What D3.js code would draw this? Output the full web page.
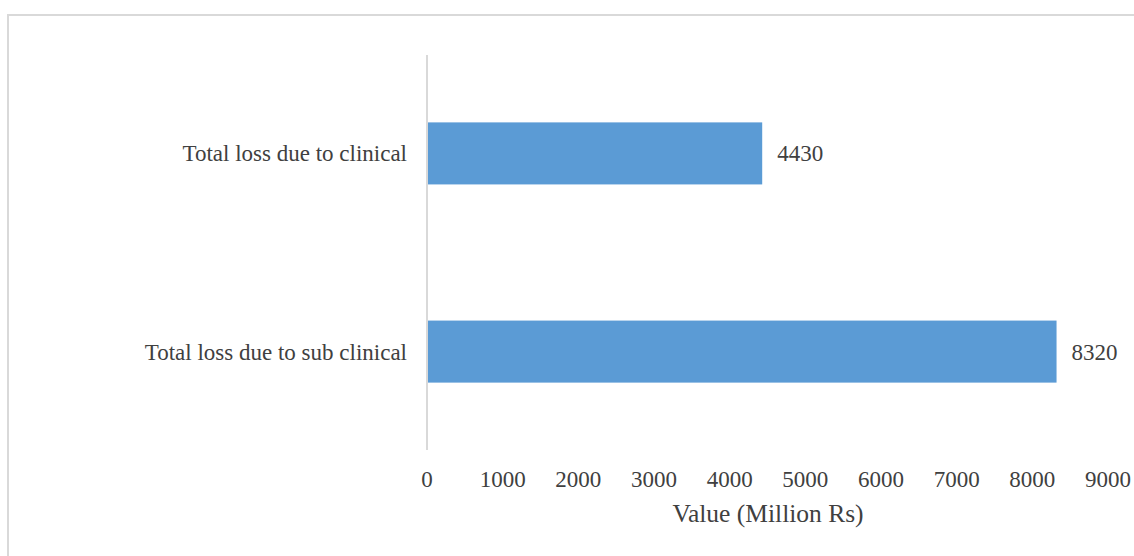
<!DOCTYPE html>
<html>
<head>
<meta charset="utf-8">
<title>Loss chart</title>
<style>
body { margin: 0; background: #fff; }
svg { display: block; }
.cat, .tick-lbl, .val, .axis-title {
	font-family: "Liberation Serif", "Times New Roman", serif;
	fill: #404040;
}
</style>
</head>
<body>
<div id="chart"></div>
<script src="https://d3js.org/d3.v7.min.js"></script>
<script>

// chart values
const categories = ['Total loss due to clinical', 'Total loss due to sub clinical'];
const values = [4430, 8320];
const tickValues = [0, 1000, 2000, 3000, 4000, 5000, 6000, 7000, 8000, 9000];
const axisTitle = 'Value (Million Rs)';

const width = 1134, height = 556;

const svg = d3.select('#chart').append('svg')
	.attr('width', width)
	.attr('height', height);

// outer chart border (runs off the right and bottom)
svg.append('rect')
	.attr('x', 8).attr('y', 15)
	.attr('width', 1140).attr('height', 560)
	.attr('fill', 'none')
	.attr('stroke', '#d9d9d9')
	.attr('stroke-width', 2);

const x = d3.scaleLinear()
	.domain([0, 9000])
	.range([427, 1108]);

const y = d3.scaleBand()
	.domain(categories)
	.range([55, 450])
	.paddingInner(0.687)
	.paddingOuter(0.34);

// bars
svg.selectAll('rect.bar')
	.data(categories)
	.enter().append('rect')
	.attr('class', 'bar')
	.attr('x', x(0))
	.attr('y', d => y(d))
	.attr('width', (d, i) => x(values[i]) - x(0))
	.attr('height', y.bandwidth())
	.attr('fill', '#5b9bd5');

// vertical axis line
svg.append('line')
	.attr('x1', x(0)).attr('x2', x(0))
	.attr('y1', 55).attr('y2', 450)
	.attr('stroke', '#d9d9d9')
	.attr('stroke-width', 2);

// category labels
svg.selectAll('text.cat')
	.data(categories)
	.enter().append('text')
	.attr('class', 'cat')
	.attr('x', 407)
	.attr('y', d => y(d) + y.bandwidth() / 2 + 8)
	.attr('text-anchor', 'end')
	.attr('font-size', 23)
	.text(d => d);

// value labels
svg.selectAll('text.val')
	.data(categories)
	.enter().append('text')
	.attr('class', 'val')
	.attr('x', (d, i) => x(values[i]) + 15)
	.attr('y', d => y(d) + y.bandwidth() / 2 + 8)
	.attr('font-size', 23)
	.text((d, i) => values[i]);

// x tick labels
svg.selectAll('text.tick-lbl')
	.data(tickValues)
	.enter().append('text')
	.attr('class', 'tick-lbl')
	.attr('x', d => x(d))
	.attr('y', 487)
	.attr('text-anchor', 'middle')
	.attr('font-size', 23)
	.text(d => d);

// axis title
svg.append('text')
	.attr('class', 'axis-title')
	.attr('x', 768)
	.attr('y', 522)
	.attr('text-anchor', 'middle')
	.attr('font-size', 25.5)
	.text(axisTitle);

</script>
</body>
</html>
